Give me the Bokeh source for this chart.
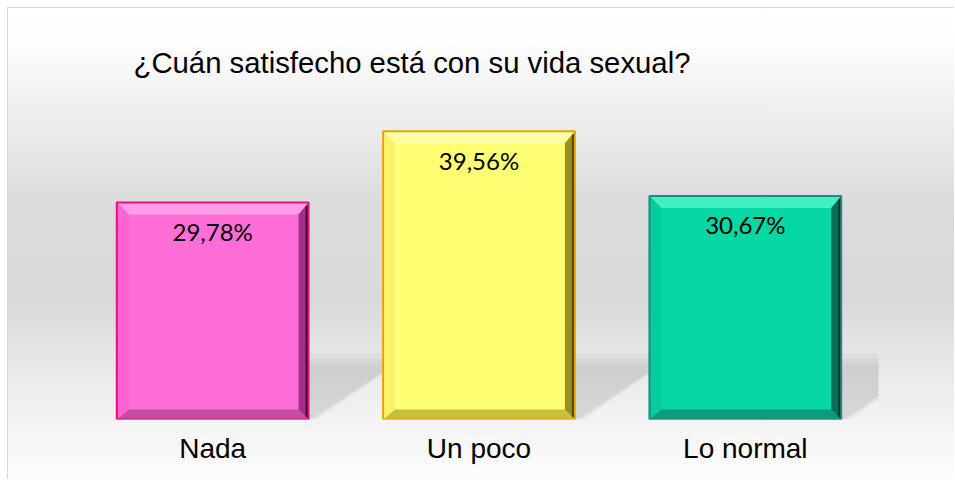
from bokeh.plotting import figure
from bokeh.models import Range1d, ColumnDataSource, FixedTicker
from bokeh.core.properties import value
from bokeh.embed import file_html
from bokeh.resources import INLINE

# ---- data ----
categories = ["Nada", "Un poco", "Lo normal"]
percentages = [29.78, 39.56, 30.67]
title_text = "¿Cuán satisfecho está con su vida sexual?"

# ---- styles ----
face = ["#ff6ed7", "#ffff74", "#06d7a3"]
edge = ["#e2127c", "#e3a600", "#1b8c80"]
top_bevel = ["#ff9ce8", "#ffffa6", "#45efc4"]
left_bevel = ["#ff62d2", "#f7f268", "#05cc9b"]
right_bevel = ["#a23084", "#9d8f1c", "#0b6f58"]
right_dark = ["#4a0633", "#4d4300", "#00392c"]
bottom_bevel = ["#c54da0", "#c9bf3c", "#0a9c7c"]

W, H = 947, 472
ML, MT, FW, FH = 71, 83, 799, 328
MR, MB = W - ML - FW, H - MT - FH
YMAX = 45
n = len(categories)
xpx = n / FW          # data units per pixel (x)
ypx = YMAX / FH       # data units per pixel (y)
BW = 0.72

p = figure(width=W, height=H, output_backend="svg", toolbar_location=None,
           x_range=Range1d(-0.5, n - 0.5), y_range=Range1d(0, YMAX),
           min_border_left=ML, min_border_right=MR, min_border_top=MT,
           min_border_bottom=MB,
           background_fill_color=None, border_fill_color=None,
           outline_line_color=None,
           styles={
               "background": "linear-gradient(to bottom, #ffffff 0%, #fdfdfd 7%, "
                             "#ebebeb 26%, #dcdcdc 41%, #d9d9d9 62%, #e3e3e3 71%, "
                             "#ececec 80%, #f4f4f4 89%, #fcfcfc 100%)",
               "border-top": "1px solid #d8d8d8",
               "border-left": "1px solid #d8d8d8",
               "margin-left": "7px",
               "margin-top": "7px",
           })

xs_idx = list(range(n))

# ---- perspective shadows ----
for b, dxt, h, a in [(9, 104, 66, 0.07), (5, 95, 61, 0.09), (2, 86, 55, 0.10)]:
    sx, sy = [], []
    for i, v in enumerate(percentages):
        R = i + BW / 2
        sx.append([R, R + b * xpx, R + dxt * xpx, R])
        sy.append([0, 0, h * ypx, h * ypx])
    p.patches(sx, sy, fill_color="#808080", fill_alpha=a, line_color=None)

# ---- bar faces ----
src = ColumnDataSource(dict(
    x=xs_idx, top=percentages, face=face, edge=edge,
    left=[i - BW / 2 for i in xs_idx], right=[i + BW / 2 for i in xs_idx],
    label=[f"{v:.2f}".replace(".", ",") + "%" for v in percentages],
))
p.quad(left="left", right="right", top="top", bottom=0, source=src,
       fill_color="face", line_color=None)

# ---- bevels ----
bt, bb, bl, br = 12 * ypx, 10 * ypx, 12 * xpx, 10 * xpx
for i, v in enumerate(percentages):
    L, R, T, B = i - BW / 2, i + BW / 2, v, 0
    p.patch([L, R, R - br, L + bl], [T, T, T - bt, T - bt], fill_color=top_bevel[i], line_color=None)
    p.patch([L, L + bl, L + bl, L], [T, T - bt, B + bb, B], fill_color=left_bevel[i], line_color=None)
    p.patch([L, L + bl, R - br, R], [B, B + bb, B + bb, B], fill_color=bottom_bevel[i], line_color=None)
    p.patch([R, R - br, R - br, R], [T, T - bt, B + bb, B], fill_color=right_bevel[i], line_color=None)
    p.patch([R, R - 3 * xpx, R - 3 * xpx, R], [T - 2 * ypx, T - 4 * ypx, B + 3 * ypx, B + 1 * ypx],
            fill_color=right_dark[i], line_color=None)

p.quad(left="left", right="right", top="top", bottom=0, source=src,
       fill_color=None, line_color="edge", line_width=2)

# ---- data labels ----
p.text(x="x", y="top", text="label", source=src, text_align="center",
       text_baseline="middle", y_offset=29, text_font=value("Lato"),
       text_font_size="24px", text_color="#000000")

# ---- title ----
p.title.text = title_text
p.title.align = "left"
p.title.offset = 54
p.title.standoff = 25
p.title.text_font = "Liberation Sans"
p.title.text_font_size = "29.3px"
p.title.text_font_style = "normal"
p.title.text_color = "#000000"

# ---- axes ----
p.xaxis.ticker = FixedTicker(ticks=xs_idx)
p.xaxis.major_label_overrides = {i: c for i, c in enumerate(categories)}
p.xaxis.major_label_text_font = "Liberation Sans"
p.xaxis.major_label_text_font_size = "28px"
p.xaxis.major_label_text_color = "#000000"
p.xaxis.major_label_standoff = 7
p.xaxis.axis_line_color = None
p.xaxis.major_tick_line_color = None
p.xaxis.minor_tick_line_color = None
p.yaxis.visible = False
p.grid.visible = False

open("out.html", "w").write(file_html(p, INLINE))
